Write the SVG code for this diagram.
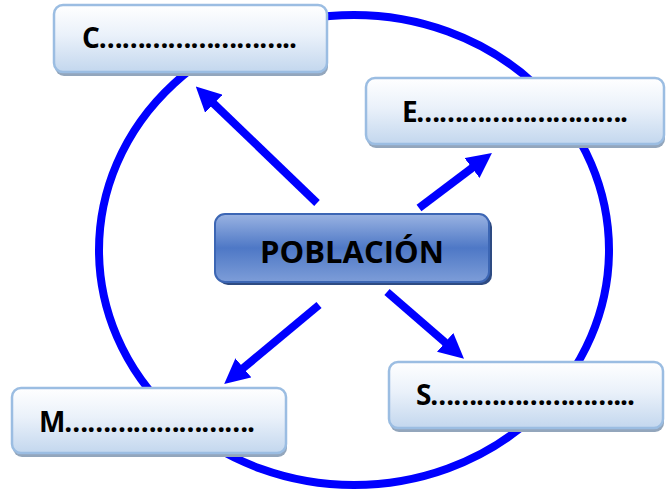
<svg xmlns="http://www.w3.org/2000/svg" width="666" height="491" viewBox="0 0 666 491">
<defs>
<linearGradient id="gLight" x1="0" y1="0" x2="0" y2="1">
<stop offset="0" stop-color="#ffffff"/>
<stop offset="0.45" stop-color="#eaf1fa"/>
<stop offset="1" stop-color="#c3d7ee"/>
</linearGradient>
<linearGradient id="gBlue" x1="0" y1="0" x2="0" y2="1">
<stop offset="0" stop-color="#9ab3e2"/>
<stop offset="0.5" stop-color="#4e78c6"/>
<stop offset="1" stop-color="#7d9dd8"/>
</linearGradient>
<marker id="ah" viewBox="0 0 10 10" refX="1" refY="5" markerUnits="userSpaceOnUse" markerWidth="25" markerHeight="25" orient="auto">
<path d="M0,0 L10,5 L0,10 z" fill="#0000ff"/>
</marker>
</defs>
<style>
.box{fill:url(#gLight);stroke:#9bbde2;stroke-width:2.5}
.sh{fill:#93a6bc}
.lbl{font-family:"Open Sans","Liberation Sans",sans-serif;font-weight:bold;font-size:28px;fill:#000}
.arr{stroke:#0000ff;stroke-width:8;fill:none}
</style>
<rect width="666" height="491" fill="#ffffff"/>
<ellipse cx="354" cy="250" rx="255" ry="235" fill="none" stroke="#0000ff" stroke-width="8"/>
<g id="connectors">
<line class="arr" x1="317" y1="203" x2="212" y2="102" marker-end="url(#ah)"/>
<line class="arr" x1="419" y1="208" x2="474" y2="166.5" marker-end="url(#ah)"/>
<line class="arr" x1="319" y1="305" x2="241.5" y2="369.5" marker-end="url(#ah)"/>
<line class="arr" x1="387" y1="292" x2="447" y2="344" marker-end="url(#ah)"/>
</g>
<g id="node-c">
<rect class="sh" x="55" y="9" width="273" height="67" rx="9"/>
<rect class="box" x="54" y="5" width="273" height="67" rx="9"/>
<text class="lbl" x="82" y="48" textLength="215" lengthAdjust="spacing">C……………………..</text>
</g>
<g id="node-e">
<rect class="sh" x="367" y="82" width="298" height="66" rx="9"/>
<rect class="box" x="366" y="78" width="298" height="66" rx="9"/>
<text class="lbl" x="402" y="122" textLength="226" lengthAdjust="spacing">E……………………….</text>
</g>
<g id="node-m">
<rect class="sh" x="13" y="392" width="274" height="65" rx="9"/>
<rect class="box" x="12" y="388" width="274" height="65" rx="9"/>
<text class="lbl" x="39" y="432" textLength="216" lengthAdjust="spacing">M…………………….</text>
</g>
<g id="node-s">
<rect class="sh" x="390" y="366" width="274" height="66" rx="9"/>
<rect class="box" x="389" y="362" width="274" height="66" rx="9"/>
<text class="lbl" x="416" y="405" textLength="219" lengthAdjust="spacing">S……………………...</text>
</g>
<g id="node-poblacion">
<rect x="218" y="217" width="274" height="68" rx="10" fill="#2e4b82"/>
<rect x="215" y="214" width="274" height="68" rx="10" fill="url(#gBlue)" stroke="#3c66b4" stroke-width="2"/>
<text x="352" y="263" text-anchor="middle" font-family="'Open Sans','Liberation Sans',sans-serif" font-weight="bold" font-size="31" fill="#000">POBLACIÓN</text>
</g>
</svg>
